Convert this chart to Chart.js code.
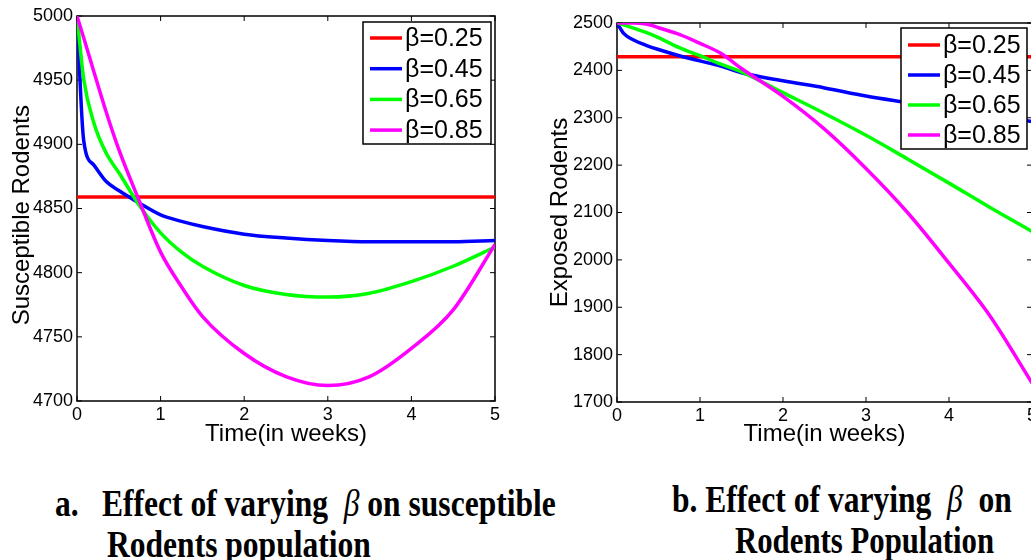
<!DOCTYPE html>
<html>
<head>
<meta charset="utf-8">
<script src="https://cdn.jsdelivr.net/npm/chart.js@4.4.1/dist/chart.umd.min.js"></script>
<style>
  html, body { margin: 0; padding: 0; background: #fff; width: 1031px; height: 560px; overflow: hidden; }
  .plot { position: absolute; top: 0; }
  .cap {
    position: absolute; color: #000; white-space: pre;
    font-family: "Liberation Serif", "Times New Roman", serif; font-weight: bold;
    font-size: 38px; line-height: 38px;
    transform: scaleX(0.83); transform-origin: 0 0;
  }
  .cap i { font-weight: normal; }
</style>
</head>
<body>
<canvas id="susChart" class="plot" width="520" height="460" style="left:0px"></canvas>
<canvas id="expChart" class="plot" width="520" height="460" style="left:520px"></canvas>

<div class="cap" style="left:55px;top:484px">a.</div>
<div class="cap" style="left:102px;top:484px">Effect of varying  <i>β</i> on susceptible</div>
<div class="cap" style="left:107px;top:525px">Rodents population</div>
<div class="cap" style="left:672px;top:480px">b. Effect of varying  <i>β</i>  on</div>
<div class="cap" style="left:735px;top:521px;transform:scaleX(0.81)">Rodents Population</div>

<script>
// time axis (weeks) shared by every curve
const weeks = [0, 0.08, 0.2, 0.35, 0.5, 0.75, 1, 1.25, 1.5, 2, 2.5, 3, 3.5, 4, 4.5, 5];
const betaLabels = ['β=0.25', 'β=0.45', 'β=0.65', 'β=0.85'];
const lineColors = ['#ff0000', '#0000ff', '#00ff00', '#ff00ff'];

// (a) susceptible rodents
const susBeta025 = [4859, 4859, 4859, 4859, 4859, 4859, 4859, 4859, 4859, 4859, 4859, 4859, 4859, 4859, 4859, 4859];
const susBeta045 = [5000, 4903, 4884, 4871, 4864, 4854, 4845, 4840, 4836, 4830, 4827, 4825, 4824, 4824, 4824, 4825];
const susBeta065 = [5000, 4951, 4917, 4893, 4878, 4852, 4831, 4816, 4805, 4790, 4783, 4781, 4784, 4793, 4805, 4820];
const susBeta085 = [5000, 4983, 4957, 4925, 4896, 4855, 4816, 4789, 4766, 4737, 4719, 4712, 4719, 4741, 4771, 4822];

// (b) exposed rodents
const expBeta025 = [2429, 2429, 2429, 2429, 2429, 2429, 2429, 2429, 2429, 2429, 2429, 2429, 2429, 2429, 2429, 2429];
const expBeta045 = [2500, 2478, 2464, 2453, 2444, 2431, 2420, 2409, 2395, 2378, 2363, 2346, 2332, 2318, 2305, 2292];
const expBeta065 = [2500, 2496, 2489, 2480, 2469, 2448, 2431, 2413, 2397, 2353, 2309, 2263, 2213, 2162, 2110, 2060];
const expBeta085 = [2500, 2500, 2500, 2498, 2490, 2476, 2457, 2436, 2404, 2345, 2276, 2193, 2100, 1993, 1880, 1740];

const xTicks = [0, 1, 2, 3, 4, 5];
const susTicks = [4700, 4750, 4800, 4850, 4900, 4950, 5000];
const expTicks = [1700, 1800, 1900, 2000, 2100, 2200, 2300, 2400, 2500];

const FONT = '"Liberation Sans", Arial, Helvetica, sans-serif';
Chart.defaults.font.family = FONT;
Chart.defaults.color = '#000';

// matlab style box with inward ticks on all four sides
const matlabFrame = {
  id: 'matlabFrame',
  beforeDatasetsDraw(chart) {
    const { ctx, chartArea: a, scales: { x, y } } = chart;
    ctx.save();
    ctx.strokeStyle = '#000';
    ctx.lineWidth = 1;
    ctx.beginPath();
    x.ticks.forEach(t => {
      const px = x.getPixelForValue(t.value);
      ctx.moveTo(px, a.bottom); ctx.lineTo(px, a.bottom - 5);
      ctx.moveTo(px, a.top); ctx.lineTo(px, a.top + 5);
    });
    y.ticks.forEach(t => {
      const py = y.getPixelForValue(t.value);
      ctx.moveTo(a.left, py); ctx.lineTo(a.left + 5, py);
      ctx.moveTo(a.right, py); ctx.lineTo(a.right - 5, py);
    });
    ctx.stroke();
    ctx.lineWidth = 1.5;
    ctx.strokeRect(a.left, a.top, a.right - a.left, a.bottom - a.top);
    ctx.restore();
  }
};

// legend drawn inside the axes, top right, boxed
const boxLegend = {
  id: 'boxLegend',
  afterDraw(chart, args, o) {
    const { ctx, chartArea } = chart;
    const x = chartArea.right - o.right - o.width;
    const y = chartArea.top + o.top;
    ctx.save();
    ctx.fillStyle = '#fff';
    ctx.fillRect(x, y, o.width, o.height);
    ctx.strokeStyle = '#000';
    ctx.lineWidth = 1.5;
    ctx.strokeRect(x, y, o.width, o.height);
    ctx.font = '25px ' + FONT;
    ctx.textBaseline = 'middle';
    chart.data.datasets.forEach((ds, i) => {
      const cy = y + o.firstRow + i * o.rowGap;
      ctx.strokeStyle = ds.borderColor;
      ctx.lineWidth = 3.5;
      ctx.beginPath();
      ctx.moveTo(x + 7, cy);
      ctx.lineTo(x + 39, cy);
      ctx.stroke();
      ctx.fillStyle = '#000';
      ctx.fillText(ds.label, x + 42, cy + 1);
    });
    ctx.restore();
  }
};

function makeChart(id, series, yMin, yMax, yTicks, yTitle, cfg) {
  const order = [3, 2, 1, 0]; // later curves on top, like matlab
  new Chart(document.getElementById(id), {
    type: 'line',
    data: {
      datasets: series.map((vals, i) => ({
        label: betaLabels[i],
        data: vals.map((v, j) => ({ x: weeks[j], y: v })),
        borderColor: lineColors[i],
        borderWidth: 3.5,
        pointRadius: 0,
        fill: false,
        cubicInterpolationMode: 'monotone',
        order: order[i]
      }))
    },
    options: {
      responsive: false,
      animation: false,
      layout: { padding: cfg.padding },
      plugins: {
        legend: { display: false },
        tooltip: { enabled: false },
        boxLegend: cfg.legend
      },
      scales: {
        x: {
          type: 'linear', min: 0, max: 5,
          afterBuildTicks: s => { s.ticks = xTicks.map(v => ({ value: v })); },
          afterFit: s => { s.height = cfg.xHeight; },
          grid: { display: false, drawTicks: false },
          border: { display: false },
          ticks: { font: { size: 18 }, padding: 3, maxRotation: 0, autoSkip: false, callback: v => String(v) },
          title: { display: true, text: 'Time(in weeks)', font: { size: 24, lineHeight: 1 }, padding: { top: 0, bottom: 14 } }
        },
        y: {
          min: yMin, max: yMax,
          afterBuildTicks: s => { s.ticks = yTicks.map(v => ({ value: v })); },
          afterFit: s => { s.width = cfg.yWidth; },
          grid: { display: false, drawTicks: false },
          border: { display: false },
          ticks: { font: { size: 18 }, padding: 4, autoSkip: false, callback: v => String(v) },
          title: { display: true, text: yTitle, font: { size: 24, lineHeight: 1 }, padding: { top: cfg.yTitlePad, bottom: 0 } }
        }
      }
    },
    plugins: [matlabFrame, boxLegend]
  });
}

makeChart('susChart', [susBeta025, susBeta045, susBeta065, susBeta085], 4700, 5000, susTicks,
  'Susceptible Rodents\u00a0\u00a0', {
    padding: { top: 16, right: 25, left: 0, bottom: 0 },
    xHeight: 59, yWidth: 77, yTitlePad: 10,
    legend: { right: 4, top: 6, width: 128, height: 122, firstRow: 16, rowGap: 30.7 }
  });

makeChart('expChart', [expBeta025, expBeta045, expBeta065, expBeta085], 1700, 2500, expTicks,
  'Exposed Rodents', {
    padding: { top: 23, right: 8, left: 0, bottom: 0 },
    xHeight: 58, yWidth: 97, yTitlePad: 28,
    legend: { right: 5, top: 5, width: 126, height: 121, firstRow: 17, rowGap: 30 }
  });
</script>
</body>
</html>
